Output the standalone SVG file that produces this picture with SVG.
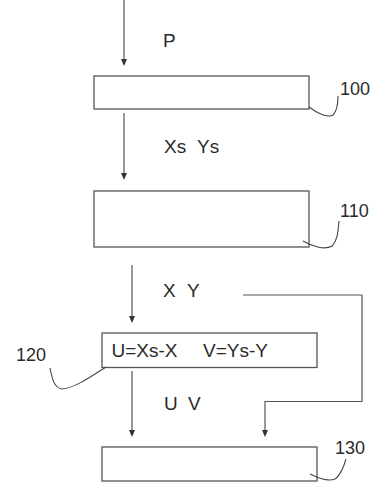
<svg xmlns="http://www.w3.org/2000/svg" width="371" height="486" viewBox="0 0 371 486">
<style>
.box{fill:#fff;stroke:#555;stroke-width:1.3}
.ln{fill:none;stroke:#555;stroke-width:1.2}
.lead{fill:none;stroke:#444;stroke-width:1.1}
.ah{fill:#333}
.t{font-family:"Liberation Sans",Arial,sans-serif;font-size:19px;fill:#2a2a2a}
.lb{font-family:"Liberation Sans",Arial,sans-serif;font-size:18px;fill:#2a2a2a}
</style>
<rect width="371" height="486" fill="#fff"/>
<g id="connectors">
<path class="ln" d="M124,0 V60"/>
<path class="ah" d="M121,59 L127,59 L124,66 Z"/>
<path class="ln" d="M124,113 V174"/>
<path class="ah" d="M121,173 L127,173 L124,180 Z"/>
<path class="ln" d="M132,265 V317"/>
<path class="ah" d="M129,316 L135,316 L132,323 Z"/>
<path class="ln" d="M132,371 V431"/>
<path class="ah" d="M129,430 L135,430 L132,437 Z"/>
<path class="ln" d="M243,295 H362 V401.5 H265 V431"/>
<path class="ah" d="M262,430 L268,430 L265,437 Z"/>
<text class="t" x="163" y="47">P</text>
<text class="t" x="164" y="153">Xs</text>
<text class="t" x="197" y="153">Ys</text>
<text class="t" x="163" y="297">X</text>
<text class="t" x="187" y="297">Y</text>
<text class="t" x="164" y="410">U</text>
<text class="t" x="188" y="410">V</text>
</g>
<g id="n100">
<rect class="box" x="94" y="76" width="215" height="33"/>
<path class="lead" d="M309,107 C318,114 328,118 333,115 C338,110 338,102 338,96"/>
<text class="lb" x="340" y="95">100</text>
</g>
<g id="n110">
<rect class="box" x="94" y="191" width="215" height="56"/>
<path class="lead" d="M303,241 C313,247 325,250 332,246 C338,240 338,230 339,221"/>
<text class="lb" x="340" y="217">110</text>
</g>
<g id="n120">
<rect class="box" x="102" y="333" width="215" height="34.5"/>
<text class="t" x="111.5" y="357">U=Xs-X</text>
<text class="t" x="203" y="357">V=Ys-Y</text>
<path class="lead" d="M106,367 C92,376 75,388 62,389 C54,388 52,378 50,368"/>
<text class="lb" x="16" y="361">120</text>
</g>
<g id="n130">
<rect class="box" x="102" y="447" width="215" height="34"/>
<path class="lead" d="M310,474 C318,478 328,482 335,479 C341,475 344,466 346,459"/>
<text class="lb" x="335" y="454">130</text>
</g>
</svg>
